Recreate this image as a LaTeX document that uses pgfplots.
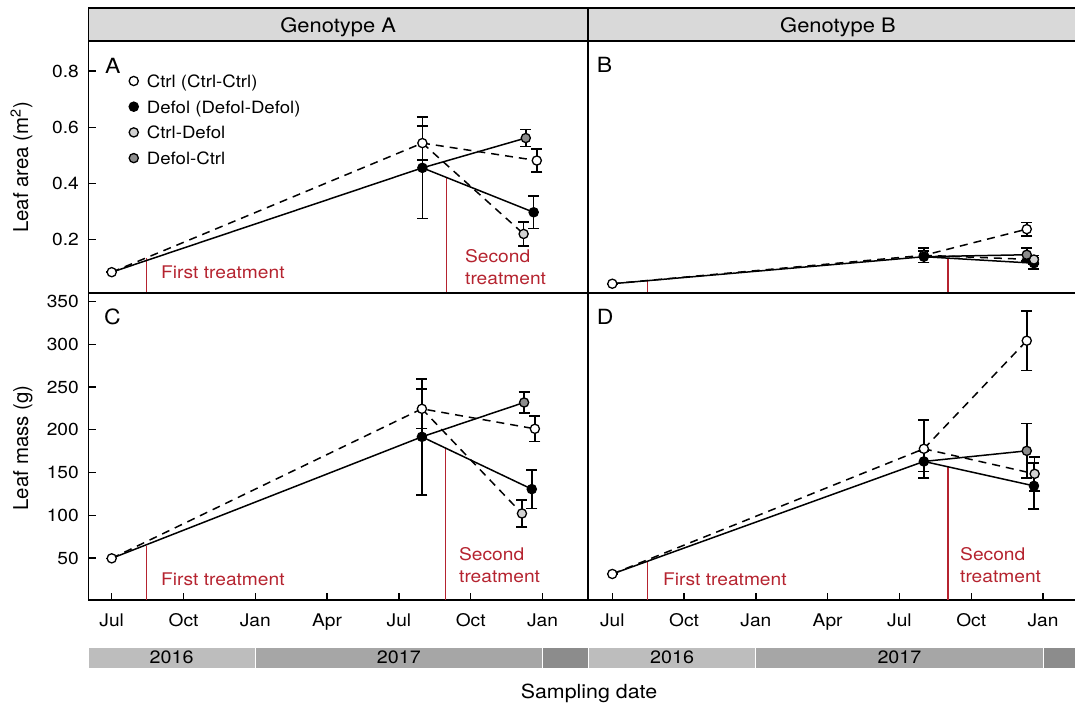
\documentclass[border=0pt]{standalone}
\usepackage{fontspec}
\setmainfont{TeX Gyre Heros}[FakeStretch=1.1]
\newfontfamily\ylabfont{TeX Gyre Heros}
\usepackage{pgfplots}
\pgfplotsset{compat=1.18}
\definecolor{tred}{RGB}{181,35,47}
\definecolor{stripgray}{RGB}{217,217,217}
\definecolor{ya}{RGB}{189,189,189}
\definecolor{yb}{RGB}{166,166,166}
\definecolor{yc}{RGB}{140,140,140}
\definecolor{lightmark}{RGB}{210,210,210}
\definecolor{darkmark}{RGB}{140,140,140}
\newcommand{\fs}[1]{\fontsize{#1}{#1}\selectfont}
\pgfplotsset{
  panel/.style={scale only axis, anchor=south west,
    axis line style={line width=1.6bp},
    every tick/.style={black, line width=1.3bp},
    tick align=inside, major tick length=7bp, tick pos=left,
    tick label style={font=\fs{17.5}},
    yticklabel style={anchor=east, inner sep=0pt, xshift=-9.5bp},
    xticklabel style={anchor=base, inner sep=0pt, yshift=-27bp}},
  leftcol/.style={width=499.5bp, xmin=-0.97, xmax=19.9},
  rightcol/.style={width=500bp, xmin=-1.015, xmax=19.88, ytick=\empty},
  toprow/.style={height=252.3bp, ymin=0.01, ymax=0.907, xtick=\empty},
  botrow/.style={height=306.7bp, ymin=0.85, ymax=359.8,
    xtick={0,3,6,9,12,15,18}, xticklabels={Jul,Oct,Jan,Apr,Jul,Oct,Jan}},
  dline/.style={black, line width=1.5bp, dash pattern=on 8bp off 6bp, no marks, forget plot},
  sline/.style={black, line width=1.5bp, solid, no marks, forget plot},
  trt/.style={tred, line width=1.5bp, solid, no marks, forget plot},
  mk/.style={only marks, mark=*, mark size=4.6bp,
    every mark/.append style={draw=black, line width=1.3bp, solid, fill=#1},
    error bars/.cd, y dir=both, y explicit, error mark=-,
    error bar style={line width=1.6bp, black, solid},
    error mark options={rotate=90, line width=1.6bp, mark size=5.5bp, black, solid}},
  yearbar/.style={scale only axis, anchor=south west, hide axis, height=21bp, ymin=0, ymax=1},
}
\begin{document}
\begin{tikzpicture}[x=1bp,y=1bp]
\useasboundingbox (0,0) rectangle (1075,708);
% strips
\draw[fill=stripgray, line width=1.6bp] (88.5,667) rectangle (588,699.7);
\draw[fill=stripgray, line width=1.6bp] (588,667) rectangle (1090,699.7);
\node[anchor=base, inner sep=0pt, font=\fs{20}] at (338.2,675.7) {Genotype A};
\node[anchor=base, inner sep=0pt, font=\fs{20}] at (838,675.7) {Genotype B};

% ---------------- Panel A
\begin{axis}[panel, leftcol, toprow, at={(88.5bp,414.7bp)},
  ytick={0.2,0.4,0.6,0.8}, yticklabels={0.2,0.4,0.6,0.8},
  legend style={draw=none, fill=none, inner sep=0pt, at={(0.081,0.868)}, anchor=north west,
    row sep=12.7bp, column sep=8.5bp, font=\fs{17},
    nodes={inner sep=0pt, text height=13bp, text depth=0bp}},
  legend cell align=left,
  legend image code/.code={\draw[#1] plot coordinates {(0bp,0bp)};}]
\addplot[trt] coordinates {(1.46,0) (1.46,0.135)};
\addplot[trt] coordinates {(13.98,0) (13.98,0.42)};
\addplot[dline] coordinates {(0,0.085) (12.98,0.544) (17.76,0.482)};
\addplot[dline] coordinates {(12.98,0.544) (17.21,0.221)};
\addplot[sline] coordinates {(0,0.085) (12.98,0.456) (17.63,0.298)};
\addplot[sline] coordinates {(12.98,0.456) (17.30,0.562)};
\addplot[mk=white] coordinates {(0,0.085) +- (0,0) (12.98,0.544) +- (0,0.06) (17.76,0.482) +- (0,0.04)};
\addlegendentry{Ctrl (Ctrl-Ctrl)}
\addplot[mk=black] coordinates {(12.98,0.456) +- (0,0.18) (17.63,0.298) +- (0,0.058)};
\addlegendentry{Defol (Defol-Defol)}
\addplot[mk=lightmark] coordinates {(17.21,0.221) +- (0,0.043)};
\addlegendentry{Ctrl-Defol}
\addplot[mk=darkmark] coordinates {(17.30,0.562) +- (0,0.03)};
\addlegendentry{Defol-Ctrl}
\end{axis}

% ---------------- Panel B
\begin{axis}[panel, rightcol, toprow, at={(588bp,414.7bp)}]
\addplot[trt] coordinates {(1.48,0) (1.48,0.056)};
\addplot[trt] coordinates {(14.02,0) (14.02,0.136)};
\addplot[dline] coordinates {(0,0.044) (13.02,0.145) (17.32,0.238)};
\addplot[dline] coordinates {(13.02,0.145) (17.62,0.13)};
\addplot[sline] coordinates {(0,0.044) (13.02,0.14) (17.62,0.117)};
\addplot[sline] coordinates {(13.02,0.14) (17.32,0.147)};
\addplot[mk=white] coordinates {(0,0.044) +- (0,0) (13.02,0.145) +- (0,0.025) (17.32,0.238) +- (0,0.024)};
\addplot[mk=black] coordinates {(13.02,0.14) +- (0,0.02) (17.62,0.117) +- (0,0.02)};
\addplot[mk=lightmark] coordinates {(17.62,0.13) +- (0,0.015)};
\addplot[mk=darkmark] coordinates {(17.32,0.147) +- (0,0.023)};
\end{axis}

% ---------------- Panel C
\begin{axis}[panel, leftcol, botrow, at={(88.5bp,108bp)},
  ytick={50,100,150,200,250,300,350}, yticklabels={50,100,150,200,250,300,350}]
\addplot[trt] coordinates {(1.45,0) (1.45,64.4)};
\addplot[trt] coordinates {(13.95,0) (13.95,178.5)};
\addplot[dline] coordinates {(0,49.6) (12.96,224.6) (17.68,201.2)};
\addplot[dline] coordinates {(12.96,224.6) (17.14,102.1)};
\addplot[sline] coordinates {(0,49.6) (12.96,191.8) (17.55,130.6)};
\addplot[sline] coordinates {(12.96,191.8) (17.23,232)};
\addplot[mk=white] coordinates {(0,49.6) +- (0,0) (12.96,224.6) +- (0,23) (17.68,201.2) +- (0,15)};
\addplot[mk=black] coordinates {(12.96,191.8) +- (0,68) (17.55,130.6) +- (0,22.5)};
\addplot[mk=lightmark] coordinates {(17.14,102.1) +- (0,16)};
\addplot[mk=darkmark] coordinates {(17.23,232) +- (0,12)};
\end{axis}

% ---------------- Panel D
\begin{axis}[panel, rightcol, botrow, at={(588bp,108bp)}]
\addplot[trt] coordinates {(1.48,0) (1.48,46.9)};
\addplot[trt] coordinates {(14.02,0) (14.02,157)};
\addplot[dline] coordinates {(0,31.3) (13.02,177.8) (17.32,304.3)};
\addplot[dline] coordinates {(13.02,177.8) (17.65,148.5)};
\addplot[sline] coordinates {(0,31.3) (13.02,163) (17.62,134.4)};
\addplot[sline] coordinates {(13.02,163) (17.32,175.4)};
\addplot[mk=white] coordinates {(0,31.3) +- (0,0) (13.02,177.8) +- (0,34) (17.32,304.3) +- (0,35)};
\addplot[mk=black] coordinates {(13.02,163) +- (0,12) (17.62,134.4) +- (0,27)};
\addplot[mk=lightmark] coordinates {(17.65,148.5) +- (0,20)};
\addplot[mk=darkmark] coordinates {(17.32,175.4) +- (0,32)};
\end{axis}

% ---------------- year bars
\begin{axis}[yearbar, width=499.5bp, xmin=-0.97, xmax=19.9, at={(88.5bp,40bp)}]
\addplot[fill=ya, draw=white, line width=0.8bp] coordinates {(-0.97,1) (6,1)} \closedcycle;
\addplot[fill=yb, draw=white, line width=0.8bp] coordinates {(6,1) (18,1)} \closedcycle;
\addplot[fill=yc, draw=white, line width=0.8bp] coordinates {(18,1) (19.9,1)} \closedcycle;
\node[font=\fs{18}, inner sep=0pt] at (axis cs:2.5,0.5) {2016};
\node[font=\fs{18}, inner sep=0pt] at (axis cs:12,0.5) {2017};
\end{axis}
\begin{axis}[yearbar, width=500bp, xmin=-1.015, xmax=19.88, at={(588bp,40bp)}]
\addplot[fill=ya, draw=white, line width=0.8bp] coordinates {(-1.015,1) (6,1)} \closedcycle;
\addplot[fill=yb, draw=white, line width=0.8bp] coordinates {(6,1) (18,1)} \closedcycle;
\addplot[fill=yc, draw=white, line width=0.8bp] coordinates {(18,1) (19.88,1)} \closedcycle;
\node[font=\fs{18}, inner sep=0pt] at (axis cs:2.5,0.5) {2016};
\node[font=\fs{18}, inner sep=0pt] at (axis cs:12,0.5) {2017};
\end{axis}

% ---------------- texts
\node[anchor=base west, inner sep=0pt, font=\fs{21}] at (105,634) {A};
\node[anchor=base west, inner sep=0pt, font=\fs{21}] at (596.6,635) {B};
\node[anchor=base west, inner sep=0pt, font=\fs{21}] at (104,383) {C};
\node[anchor=base west, inner sep=0pt, font=\fs{21}] at (596.6,383) {D};
\begin{scope}[every node/.style={tred, anchor=base west, inner sep=0pt, font=\fs{17.5}}]
\node at (161,429) {First treatment};
\node at (465,445) {Second};
\node at (465,423) {treatment};
\node at (161,122) {First treatment};
\node at (459,147) {Second};
\node at (459,125) {treatment};
\node at (663,122) {First treatment};
\node at (960,147) {Second};
\node at (960,125) {treatment};
\end{scope}
\node[rotate=90, anchor=base, inner sep=0pt, font=\ylabfont\fs{20.5}] at (28,540.5) {Leaf area (m\textsuperscript{2})};
\node[rotate=90, anchor=base, inner sep=0pt, font=\ylabfont\fs{20.5}] at (28,260) {Leaf mass (g)};
\node[anchor=base, inner sep=0pt, font=\fs{19.5}] at (589,9) {Sampling date};
\end{tikzpicture}
\end{document}
